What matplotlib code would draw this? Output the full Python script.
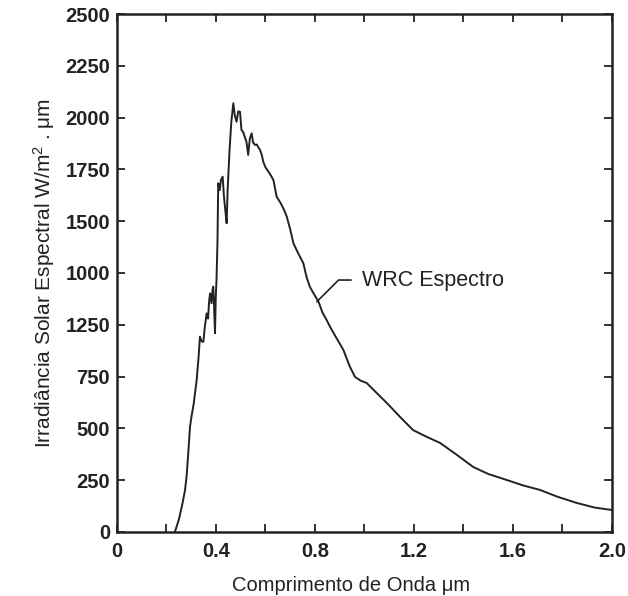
import matplotlib
matplotlib.use("Agg")
import matplotlib.pyplot as plt

plt.rcParams['font.family'] = ['Liberation Sans', 'DejaVu Sans']
plt.rcParams['mathtext.fontset'] = 'custom'
plt.rcParams['mathtext.rm'] = 'Liberation Sans'
plt.rcParams['mathtext.it'] = 'Liberation Sans:italic'

# WRC spectrum (wavelength in um, irradiance in W/m2.um)
wavelength = [0.234, 0.25, 0.265, 0.275, 0.281, 0.288, 0.295, 0.301, 0.31, 0.322,
              0.33, 0.335, 0.342, 0.349, 0.355, 0.362, 0.368, 0.372, 0.376, 0.382,
              0.386, 0.389, 0.392, 0.396, 0.399, 0.402, 0.406, 0.409, 0.415, 0.42,
              0.427, 0.432, 0.437, 0.443, 0.447, 0.455, 0.462, 0.47, 0.476, 0.483,
              0.49, 0.497, 0.503, 0.51, 0.518, 0.523, 0.53, 0.537, 0.544, 0.55,
              0.558, 0.565, 0.572, 0.578, 0.585, 0.591, 0.6, 0.612, 0.622, 0.632,
              0.645, 0.66, 0.675, 0.686, 0.7, 0.713, 0.73, 0.753, 0.766, 0.779,
              0.795, 0.814, 0.83, 0.847, 0.861, 0.88, 0.915, 0.94, 0.962, 0.985,
              1.009, 1.05, 1.09, 1.14, 1.196, 1.25, 1.305, 1.37, 1.439, 1.5,
              1.575, 1.64, 1.709, 1.78, 1.858, 1.93, 2.0]
irradiance = [0, 60, 140, 203, 267, 380, 508, 557, 620, 734,
              850, 943, 920, 918, 990, 1055, 1030, 1110, 1152, 1104,
              1170, 1184, 1100, 959, 1130, 1216, 1400, 1683, 1650, 1700,
              1715, 1620, 1560, 1490, 1650, 1850, 1980, 2069, 2010, 1980,
              2030, 2028, 1940, 1930, 1900, 1884, 1820, 1900, 1924, 1880,
              1868, 1870, 1855, 1844, 1820, 1787, 1760, 1739, 1720, 1699,
              1618, 1590, 1555, 1522, 1460, 1393, 1350, 1297, 1230, 1184,
              1150, 1112, 1060, 1023, 990, 950, 878, 800, 748, 730,
              719, 670, 623, 560, 492, 460, 430, 375, 314, 280,
              251, 225, 203, 170, 140, 118, 106]

x_ticks = [0, 0.2, 0.4, 0.6, 0.8, 1.0, 1.2, 1.4, 1.6, 1.8, 2.0]
x_ticklabels = ['0', '', '0.4', '', '0.8', '', '1.2', '', '1.6', '', '2.0']
y_ticks = [0, 250, 500, 750, 1000, 1250, 1500, 1750, 2000, 2250, 2500]
# labels as printed in the original (1000 and 1250 are swapped there)
y_ticklabels = ['0', '250', '500', '750', '1250', '1000', '1500', '1750', '2000', '2250', '2500']

fig = plt.figure(figsize=(6.28, 5.96), dpi=100)
ax = fig.add_axes([0.1863, 0.1074, 0.7882, 0.8691])

ax.plot(wavelength, irradiance, color='#222222', lw=1.4)

ax.set_xlim(0, 2.0)
ax.set_ylim(0, 2500)
ax.set_xticks(x_ticks)
ax.set_xticklabels(x_ticklabels, fontweight='bold', fontsize=14.5)
ax.set_yticks(y_ticks)
ax.set_yticklabels(y_ticklabels, fontweight='bold', fontsize=14.5)
ax.tick_params(direction='in', length=6, width=1.3, top=True, right=True,
               colors='#222222', labelcolor='#222222')
ax.tick_params(axis='x', pad=7)
ax.tick_params(axis='y', pad=5)
for s in ax.spines.values():
    s.set_linewidth(1.8)
    s.set_color('#222222')

ax.set_xlabel('Comprimento de Onda \u03bcm', fontsize=14.5, color='#222222')
ax.xaxis.set_label_coords(0.473, -0.085)
ax.set_ylabel('Irradi\u00e2ncia Solar Espectral W/m$^2$ . \u03bcm', fontsize=15,
              color='#222222', labelpad=6)

# label with its pointer line
ax.plot([0.808, 0.895, 0.945], [1112, 1216, 1216], color='#222222', lw=1.2)
ax.text(0.99, 1216, 'WRC Espectro', fontsize=15.5, va='center', ha='left', color='#222222')

fig.savefig('out.png', dpi=100)
